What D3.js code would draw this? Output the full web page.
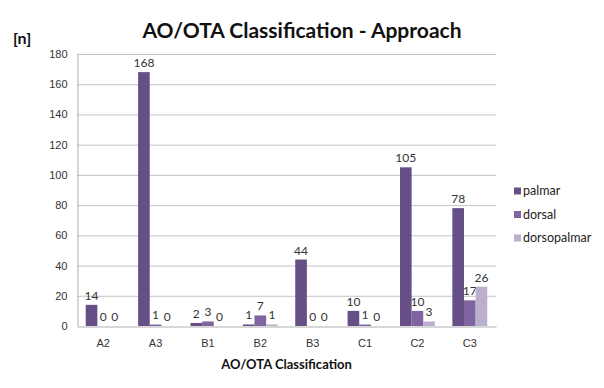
<!DOCTYPE html>
<html><head><meta charset="utf-8">
<script src="https://cdn.jsdelivr.net/npm/d3@7"></script>
<style>body{margin:0;background:#fff;}svg{display:block;}</style>
</head><body>
<script>
const categories = ["A2","A3","B1","B2","B3","C1","C2","C3"];
const seriesNames = ["palmar","dorsal","dorsopalmar"];
const palmar = [14,168,2,1,44,10,105,78];
const dorsal = [0,1,3,7,0,1,10,17];
const dorsopalmar = [0,0,0,1,0,0,3,26];
const yTicks = [0,20,40,60,80,100,120,140,160,180];
const colors = ["#664f87","#8064a2","#bab0ce"];

const series = [palmar, dorsal, dorsopalmar];
const W = 604, H = 388;
const m = {left:77, right:496, top:54, bottom:326};
const svg = d3.select("body").append("svg").attr("width",W).attr("height",H);
const font = "Lato, 'Open Sans', sans-serif";

const x = d3.scaleBand().domain(categories).range([m.left, m.right]).paddingInner(0).paddingOuter(0);
const y = d3.scaleLinear().domain([0,180]).range([m.bottom, m.top]);
const bw = x.bandwidth()/4.5;
const xs = d3.scaleBand().domain(seriesNames).range([bw*0.75, x.bandwidth()-bw*0.75]).padding(0);

// gridlines
svg.append("g").selectAll("line").data(yTicks.filter(d=>d>0)).join("line")
  .attr("x1",m.left).attr("x2",m.right).attr("y1",d=>y(d)+0.5).attr("y2",d=>y(d)+0.5)
  .attr("stroke","#c4c4c4").attr("stroke-width",1);

// y axis
const ya = svg.append("g").attr("transform",`translate(${m.left+0.5},0)`)
  .call(d3.axisLeft(y).tickValues(yTicks).tickSize(0).tickPadding(10));
ya.select(".domain").attr("stroke","#b0b0b0");
ya.selectAll("text").attr("font-family","'Liberation Sans', Arial, sans-serif").attr("font-size",11).attr("fill","#333");

// bars
series.forEach((vals,si)=>{
  svg.append("g").selectAll("rect").data(vals).join("rect")
    .attr("x",(d,i)=>x(categories[i])+xs(seriesNames[si]))
    .attr("width",xs.bandwidth())
    .attr("y",d=>y(d)).attr("height",d=>y(0)-y(d))
    .attr("fill",colors[si]);
  svg.append("g").selectAll("text").data(vals).join("text")
    .attr("x",(d,i)=>x(categories[i])+xs(seriesNames[si])+xs.bandwidth()/2)
    .attr("y",d=>y(d)-5)
    .attr("text-anchor","middle")
    .attr("font-family",font).attr("font-size",12).attr("fill","#333")
    .text(d=>d);
});

// x axis
const xa = svg.append("g").attr("transform",`translate(0,${m.bottom+0.5})`)
  .call(d3.axisBottom(x).tickSize(0).tickPadding(13));
xa.select(".domain").attr("stroke","#b0b0b0");
xa.selectAll("text").attr("font-family","'Liberation Sans', Arial, sans-serif").attr("font-size",11).attr("fill","#333");

// titles
svg.append("text").attr("x",302).attr("y",38).attr("text-anchor","middle")
  .attr("font-family",font).attr("font-weight","bold").attr("font-size",21).attr("fill","#111")
  .text("AO/OTA Classification - Approach");
svg.append("text").attr("x",13).attr("y",44)
  .attr("font-family",font).attr("font-weight","bold").attr("font-size",16).attr("fill","#111")
  .text("[n]");
svg.append("text").attr("x",(m.left+m.right)/2).attr("y",369).attr("text-anchor","middle")
  .attr("font-family",font).attr("font-weight","bold").attr("font-size",13).attr("fill","#111")
  .text("AO/OTA Classification");

// legend
const lg = svg.append("g");
seriesNames.forEach((n,i)=>{
  const ly = 191 + i*23.5;
  lg.append("rect").attr("x",514).attr("y",ly-3.5).attr("width",7).attr("height",7).attr("fill",colors[i]);
  lg.append("text").attr("x",523).attr("y",ly+4).attr("font-family",font).attr("font-size",12.5).attr("fill","#222").text(n);
});
</script>
</body></html>
